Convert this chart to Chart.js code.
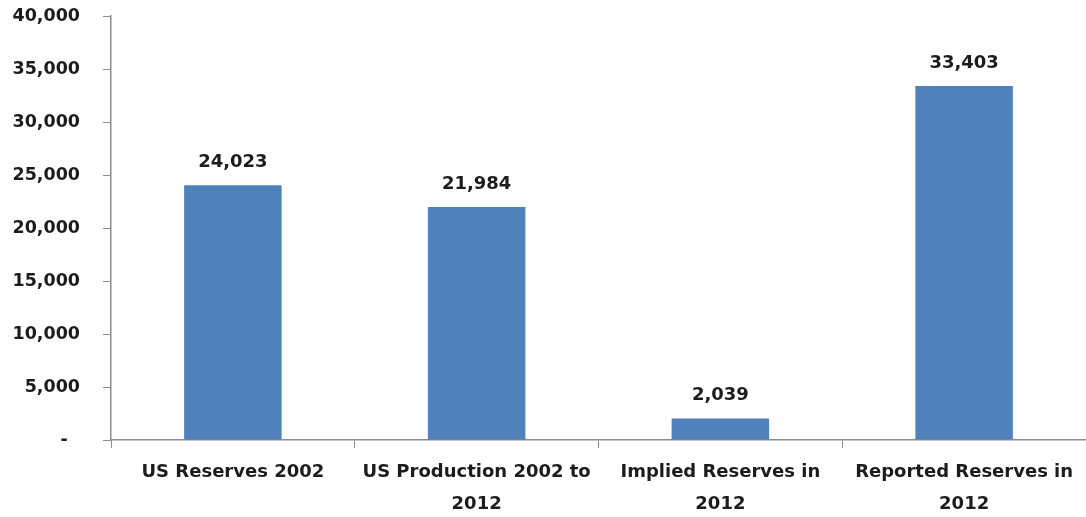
<!DOCTYPE html>
<html>
<head>
<meta charset="utf-8">
<script src="https://cdn.jsdelivr.net/npm/chart.js@4.4.1/dist/chart.umd.min.js"></script>
<style>
  html, body { margin: 0; padding: 0; background: #fff; }
  #wrap { width: 1086px; height: 517px; position: relative; }
</style>
</head>
<body>
<div id="wrap"><canvas id="reservesChart"></canvas></div>
<script>
(() => {
  "use strict";

  const categories = [
    "US Reserves 2002",
    ["US Production 2002 to", "2012"],
    ["Implied Reserves in", "2012"],
    ["Reported Reserves in", "2012"]
  ];
  const reserves = [24023, 21984, 2039, 33403];
  const yTicks = [0, 5000, 10000, 15000, 20000, 25000, 30000, 35000, 40000];

  const FONT = "'DejaVu Sans', sans-serif";
  const TEXT = "#1c1c1c";
  const AXIS = "#8c8c8c";

  const fmt = (v) => (v === 0 ? "-  " : v.toLocaleString("en-US"));

  // value labels above each bar
  const barValues = {
    id: "barValues",
    afterDatasetsDraw(chart) {
      const { ctx } = chart;
      const meta = chart.getDatasetMeta(0);
      ctx.save();
      ctx.font = `bold 18px ${FONT}`;
      ctx.fillStyle = TEXT;
      ctx.textAlign = "center";
      ctx.textBaseline = "middle";
      meta.data.forEach((bar, i) => {
        ctx.fillText(fmt(reserves[i]), bar.x, bar.y - 23);
      });
      ctx.restore();
    }
  };

  new Chart(document.getElementById("reservesChart"), {
    type: "bar",
    data: {
      labels: categories,
      datasets: [{
        data: reserves,
        backgroundColor: "#4F81BD",
        borderWidth: 0,
        categoryPercentage: 1,
        barPercentage: 0.4
      }]
    },
    options: {
      responsive: true,
      maintainAspectRatio: false,
      animation: false,
      layout: { padding: { top: 16, right: 0, left: 0, bottom: 0 } },
      plugins: { legend: { display: false }, tooltip: { enabled: false } },
      scales: {
        x: {
          grid: {
            offset: true,
            drawOnChartArea: false,
            drawTicks: true,
            tickLength: 8,
            color: AXIS
          },
          border: { color: AXIS, width: 1.5 },
          ticks: {
            color: TEXT,
            font: { family: FONT, size: 18, weight: "bold", lineHeight: 1.78 },
            padding: 8,
            maxRotation: 0,
            autoSkip: false
          },
          afterFit: (scale) => { scale.height = 77; }
        },
        y: {
          min: 0,
          max: 40000,
          afterBuildTicks: (scale) => { scale.ticks = yTicks.map((v) => ({ value: v })); },
          grid: {
            drawOnChartArea: false,
            drawTicks: true,
            tickLength: 8,
            color: AXIS
          },
          border: { color: AXIS, width: 1.5 },
          ticks: {
            color: TEXT,
            font: { family: FONT, size: 17.5, weight: "bold" },
            padding: 23,
            callback: (v) => fmt(v)
          },
          afterFit: (scale) => {
            scale.width = 111;
            scale.paddingTop = 0;
            scale.paddingBottom = 0;
          }
        }
      }
    },
    plugins: [barValues]
  });
})();
</script>
</body>
</html>
